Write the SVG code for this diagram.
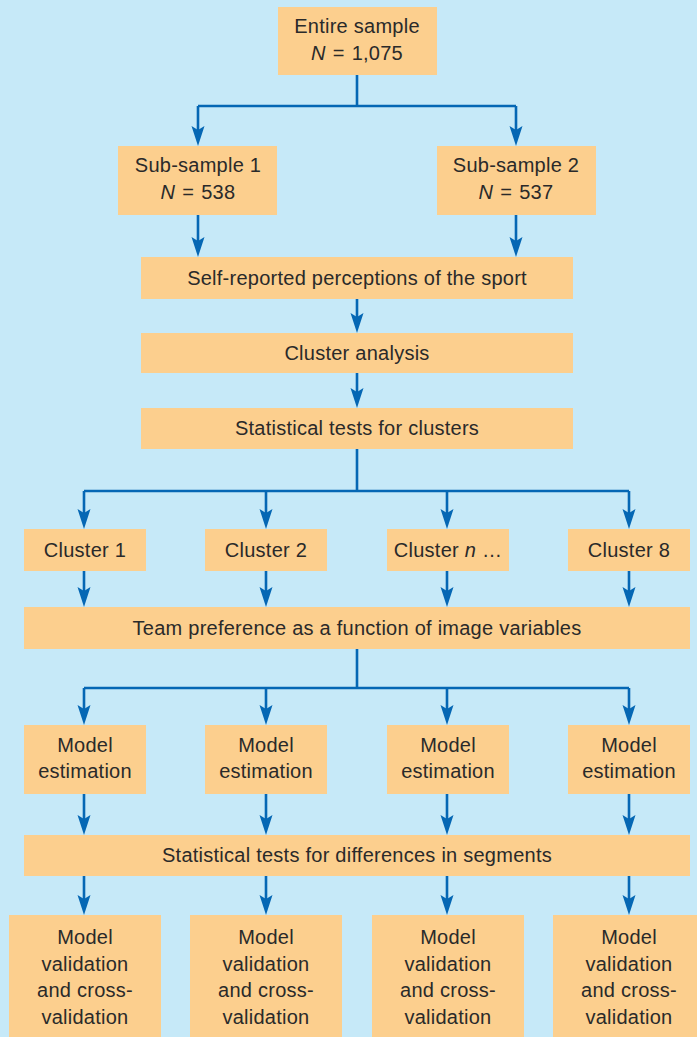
<svg xmlns="http://www.w3.org/2000/svg" width="697" height="1037" viewBox="0 0 697 1037">
<style>
.box{fill:#fccf8e}
.t{font-family:"Liberation Sans",Arial,sans-serif;font-size:20px;fill:#2a2a2a;text-anchor:middle;letter-spacing:0.25px}
.c{fill:none;stroke:#0567b4;stroke-width:2.6}
.a{marker-end:url(#ah)}
</style>
<defs>
<marker id="ah" markerUnits="userSpaceOnUse" markerWidth="22" markerHeight="14" refX="10" refY="6.5" orient="auto" viewBox="0 0 22 14">
<path d="M0,0 L20,6.5 L0,13 L4,6.5 Z" fill="#0567b4"/>
</marker>
</defs>
<rect width="697" height="1037" fill="#c6e9f8"/>
<g id="connectors">
<path class="c" d="M357,75 V106 M198,106 H516"/>
<path class="c a" d="M198,106 V136"/>
<path class="c a" d="M516,106 V136"/>
<path class="c a" d="M198,215 V247"/>
<path class="c a" d="M516,215 V247"/>
<path class="c a" d="M357,299 V323"/>
<path class="c a" d="M357,373 V398"/>
<path class="c" d="M357,449 V491 M84,491 H629"/>
<path class="c a" d="M84,491 V519"/>
<path class="c a" d="M266,491 V519"/>
<path class="c a" d="M447,491 V519"/>
<path class="c a" d="M629,491 V519"/>
<path class="c a" d="M84,571 V597"/>
<path class="c a" d="M266,571 V597"/>
<path class="c a" d="M447,571 V597"/>
<path class="c a" d="M629,571 V597"/>
<path class="c" d="M357,649 V688 M84,688 H629"/>
<path class="c a" d="M84,688 V715"/>
<path class="c a" d="M266,688 V715"/>
<path class="c a" d="M447,688 V715"/>
<path class="c a" d="M629,688 V715"/>
<path class="c a" d="M84,794 V825"/>
<path class="c a" d="M266,794 V825"/>
<path class="c a" d="M447,794 V825"/>
<path class="c a" d="M629,794 V825"/>
<path class="c a" d="M84,876 V905"/>
<path class="c a" d="M266,876 V905"/>
<path class="c a" d="M447,876 V905"/>
<path class="c a" d="M629,876 V905"/>
</g>
<g id="entire">
<rect class="box" x="278" y="7" width="159" height="68"/>
<text class="t" x="357" y="33">Entire sample</text>
<text class="t" x="357" y="60"><tspan font-style="italic">N</tspan><tspan dx="7">=</tspan><tspan dx="7">1,075</tspan></text>
</g>
<g id="sub1">
<rect class="box" x="118" y="146" width="159" height="69"/>
<text class="t" x="198" y="172">Sub-sample 1</text>
<text class="t" x="198" y="199"><tspan font-style="italic">N</tspan><tspan dx="7">=</tspan><tspan dx="7">538</tspan></text>
</g>
<g id="sub2">
<rect class="box" x="437" y="146" width="159" height="69"/>
<text class="t" x="516" y="172">Sub-sample 2</text>
<text class="t" x="516" y="199"><tspan font-style="italic">N</tspan><tspan dx="7">=</tspan><tspan dx="7">537</tspan></text>
</g>
<g id="selfreported">
<rect class="box" x="141" y="257" width="432" height="42"/>
<text class="t" x="357" y="285">Self-reported perceptions of the sport</text>
</g>
<g id="clusteranalysis">
<rect class="box" x="141" y="333" width="432" height="40"/>
<text class="t" x="357" y="360">Cluster analysis</text>
</g>
<g id="stattests">
<rect class="box" x="141" y="408" width="432" height="41"/>
<text class="t" x="357" y="435">Statistical tests for clusters</text>
</g>
<g id="cluster1">
<rect class="box" x="24" y="529" width="122" height="42"/>
<text class="t" x="85" y="557">Cluster 1</text>
</g>
<g id="cluster2">
<rect class="box" x="205" y="529" width="122" height="42"/>
<text class="t" x="266" y="557">Cluster 2</text>
</g>
<g id="clustern">
<rect class="box" x="387" y="529" width="122" height="42"/>
<text class="t" x="448" y="557">Cluster <tspan font-style="italic">n</tspan> …</text>
</g>
<g id="cluster8">
<rect class="box" x="568" y="529" width="122" height="42"/>
<text class="t" x="629" y="557">Cluster 8</text>
</g>
<g id="teampref">
<rect class="box" x="24" y="607" width="666" height="42"/>
<text class="t" x="357" y="635">Team preference as a function of image variables</text>
</g>
<g id="est1">
<rect class="box" x="24" y="725" width="122" height="69"/>
<text class="t" x="85" y="752">Model</text>
<text class="t" x="85" y="778">estimation</text>
</g>
<g id="est2">
<rect class="box" x="205" y="725" width="122" height="69"/>
<text class="t" x="266" y="752">Model</text>
<text class="t" x="266" y="778">estimation</text>
</g>
<g id="est3">
<rect class="box" x="387" y="725" width="122" height="69"/>
<text class="t" x="448" y="752">Model</text>
<text class="t" x="448" y="778">estimation</text>
</g>
<g id="est4">
<rect class="box" x="568" y="725" width="122" height="69"/>
<text class="t" x="629" y="752">Model</text>
<text class="t" x="629" y="778">estimation</text>
</g>
<g id="stattests2">
<rect class="box" x="24" y="835" width="666" height="41"/>
<text class="t" x="357" y="862">Statistical tests for differences in segments</text>
</g>
<g id="val1">
<rect class="box" x="9" y="915" width="152" height="130"/>
<text class="t" x="85" y="944">Model</text>
<text class="t" x="85" y="971">validation</text>
<text class="t" x="85" y="997">and cross-</text>
<text class="t" x="85" y="1024">validation</text>
</g>
<g id="val2">
<rect class="box" x="190" y="915" width="152" height="130"/>
<text class="t" x="266" y="944">Model</text>
<text class="t" x="266" y="971">validation</text>
<text class="t" x="266" y="997">and cross-</text>
<text class="t" x="266" y="1024">validation</text>
</g>
<g id="val3">
<rect class="box" x="372" y="915" width="152" height="130"/>
<text class="t" x="448" y="944">Model</text>
<text class="t" x="448" y="971">validation</text>
<text class="t" x="448" y="997">and cross-</text>
<text class="t" x="448" y="1024">validation</text>
</g>
<g id="val4">
<rect class="box" x="553" y="915" width="152" height="130"/>
<text class="t" x="629" y="944">Model</text>
<text class="t" x="629" y="971">validation</text>
<text class="t" x="629" y="997">and cross-</text>
<text class="t" x="629" y="1024">validation</text>
</g>
</svg>
